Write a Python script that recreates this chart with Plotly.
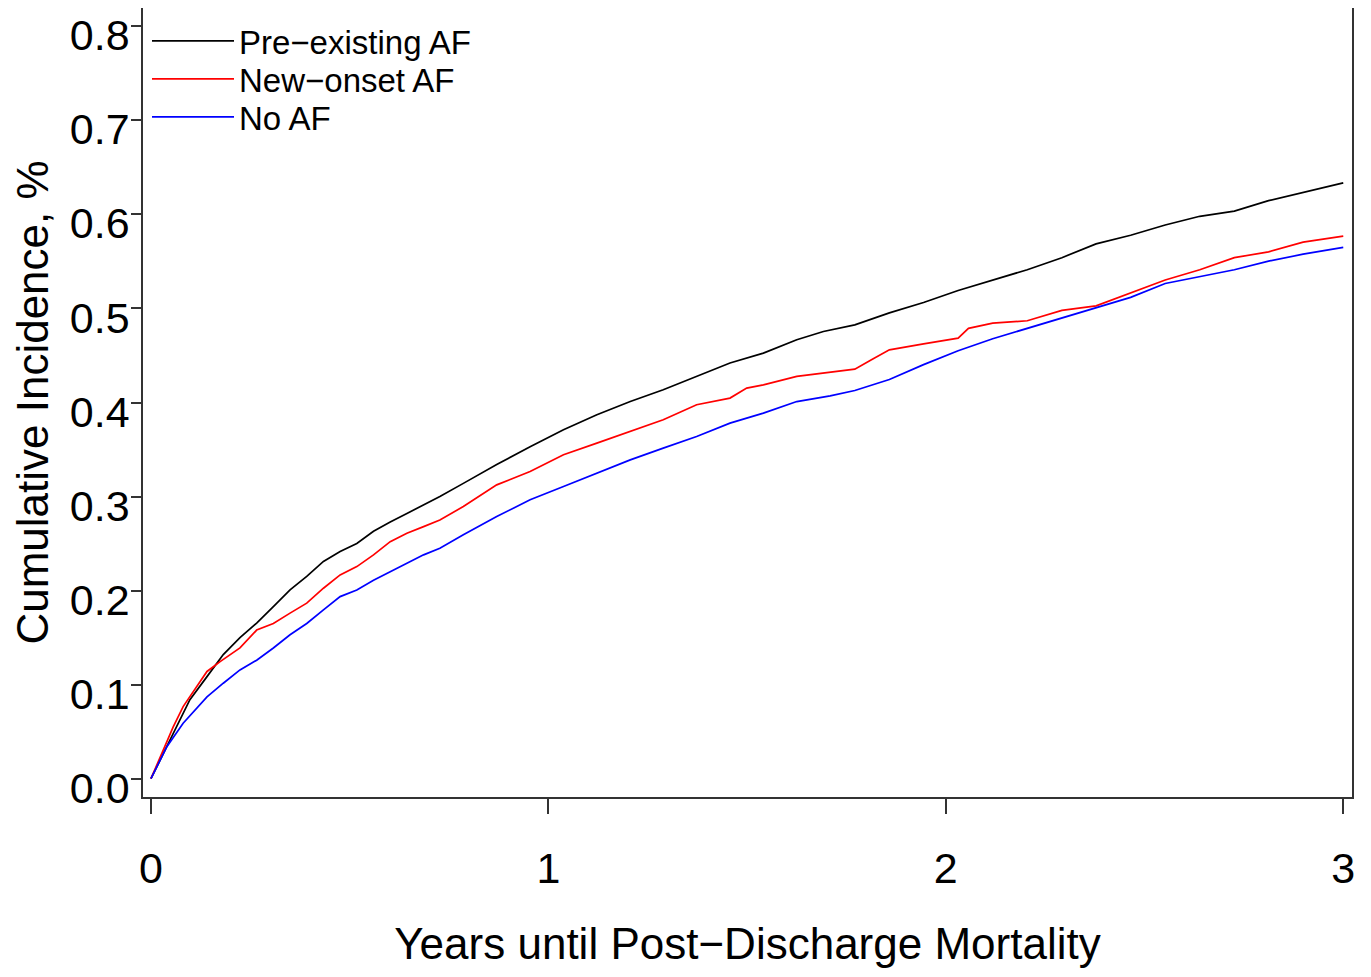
import plotly.graph_objects as go

# ---- data ----
pre_x = [0, 0.056, 0.098, 0.141, 0.182, 0.224, 0.266, 0.308, 0.35, 0.392, 0.434, 0.476, 0.518, 0.56,
         0.602, 0.644, 0.686, 0.727, 0.786, 0.870, 0.954, 1.038, 1.122, 1.206, 1.289, 1.373, 1.457,
         1.541, 1.625, 1.692, 1.771, 1.858, 1.944, 2.031, 2.118, 2.205, 2.292, 2.378, 2.465, 2.552,
         2.639, 2.726, 2.812, 2.899, 3.0]
pre_y = [0, 0.049, 0.084, 0.1085, 0.132, 0.150, 0.1655, 0.183, 0.2007, 0.215, 0.231, 0.2415, 0.250,
         0.263, 0.273, 0.282, 0.291, 0.300, 0.314, 0.334, 0.353, 0.371, 0.387, 0.401, 0.4135, 0.4277,
         0.442, 0.4525, 0.4667, 0.4755, 0.4825, 0.4953, 0.5063, 0.5191, 0.5302, 0.5412, 0.554, 0.5687,
         0.5779, 0.5888, 0.598, 0.6035, 0.6146, 0.6237, 0.6336]

new_x = [0, 0.056, 0.081, 0.141, 0.174, 0.224, 0.266, 0.308, 0.35, 0.392, 0.434, 0.476, 0.518, 0.56,
         0.602, 0.644, 0.686, 0.727, 0.786, 0.870, 0.954, 1.038, 1.122, 1.206, 1.289, 1.373, 1.457,
         1.499, 1.541, 1.625, 1.709, 1.771, 1.814, 1.858, 1.944, 2.031, 2.057, 2.118, 2.205, 2.292,
         2.378, 2.465, 2.552, 2.639, 2.726, 2.812, 2.899, 3.0]
new_y = [0, 0.055, 0.0766, 0.114, 0.1245, 0.139, 0.158, 0.165, 0.176, 0.1866, 0.2025, 0.2167, 0.2255,
         0.238, 0.252, 0.261, 0.268, 0.275, 0.2894, 0.3124, 0.3266, 0.3444, 0.3568, 0.3691, 0.3816,
         0.3976, 0.4047, 0.4153, 0.4188, 0.4277, 0.432, 0.4355, 0.4457, 0.456, 0.4623, 0.4685, 0.4788,
         0.4844, 0.4869, 0.4979, 0.5027, 0.5163, 0.5302, 0.5412, 0.554, 0.5602, 0.5705, 0.577]

no_x = [0, 0.04, 0.081, 0.141, 0.182, 0.224, 0.266, 0.308, 0.35, 0.392, 0.434, 0.476, 0.518, 0.56,
        0.602, 0.644, 0.686, 0.727, 0.786, 0.870, 0.954, 1.038, 1.122, 1.206, 1.289, 1.373, 1.457,
        1.541, 1.625, 1.709, 1.771, 1.858, 1.944, 2.031, 2.118, 2.205, 2.292, 2.378, 2.465, 2.552,
        2.639, 2.726, 2.812, 2.899, 3.0]
no_y = [0, 0.034, 0.059, 0.087, 0.1015, 0.1156, 0.126, 0.139, 0.153, 0.165, 0.1795, 0.1936, 0.2007,
        0.211, 0.220, 0.229, 0.238, 0.245, 0.2593, 0.2787, 0.2965, 0.3106, 0.3249, 0.339, 0.3515,
        0.3638, 0.3781, 0.3887, 0.401, 0.407, 0.4128, 0.4245, 0.4403, 0.455, 0.4678, 0.4788, 0.4898,
        0.5009, 0.5118, 0.5265, 0.5338, 0.5412, 0.5503, 0.5577, 0.565]

series_names = ["Pre\u2212existing AF", "New\u2212onset AF", "No AF"]
x_ticks = [0, 1, 2, 3]
y_ticks = [0.0, 0.1, 0.2, 0.3, 0.4, 0.5, 0.6, 0.7, 0.8]

FONT = "Liberation Sans, Arial, sans-serif"
OFF = 8                      # page body margin of the HTML
W, H = 1371 - OFF, 977 - OFF
PLOT_L, PLOT_R, PLOT_T, PLOT_B = 143, 1352, 8, 797   # target screen positions
PLOT_H = PLOT_B - PLOT_T
PLOT_W = PLOT_R - PLOT_L

def ypaper(py):
    return 1 - (py - PLOT_T) / PLOT_H

fig = go.Figure()
legend_ids = ["legend", "legend2", "legend3"]
for name, xs, ys, col, lg in [(series_names[0], pre_x, pre_y, "#000000", legend_ids[0]),
                              (series_names[1], new_x, new_y, "#FF0000", legend_ids[1]),
                              (series_names[2], no_x, no_y, "#0000FF", legend_ids[2])]:
    fig.add_trace(go.Scatter(x=xs, y=ys, mode="lines", name=name, legend=lg,
                             line=dict(color=col, width=1.7)))

legend_style = dict(x=4.0 / PLOT_W, xanchor="left", yanchor="middle",
                    font=dict(size=33, family=FONT, color="black"),
                    bgcolor="rgba(0,0,0,0)", itemwidth=82)
fig.update_layout(
    width=W, height=H,
    margin=dict(l=PLOT_L - OFF, r=W - (PLOT_R - OFF), t=PLOT_T - OFF, b=H - (PLOT_B - OFF),
                pad=0, autoexpand=False),
    paper_bgcolor="white", plot_bgcolor="white",
    font=dict(family=FONT, color="black"),
    showlegend=True,
    legend=dict(y=ypaper(41), **legend_style),
    legend2=dict(y=ypaper(79), **legend_style),
    legend3=dict(y=ypaper(117), **legend_style),
)
fig.update_xaxes(
    range=[-0.02, 3.022], tickvals=x_ticks, ticktext=[str(v) for v in x_ticks],
    showgrid=False, zeroline=False, showline=True, linecolor="#333333", linewidth=1.5,
    mirror=True, ticks="outside", ticklen=15, tickwidth=1.5, tickcolor="#333333",
    tickfont=dict(size=43, family=FONT), ticklabelstandoff=18, automargin=False,
    title=dict(text="Years until Post\u2212Discharge Mortality", font=dict(size=44, family=FONT), standoff=37),
)
fig.update_yaxes(
    range=[-0.0195, 0.8195], tickvals=y_ticks, tickformat=".1f",
    showgrid=False, zeroline=False, showline=True, linecolor="#333333", linewidth=1.5,
    mirror=True, ticks="outside", ticklen=10, tickwidth=1.5, tickcolor="#333333",
    tickfont=dict(size=43, family=FONT), ticklabelshift=9, ticklabelstandoff=-7,
    ticklabeloverflow="allow", automargin=False,
    title=dict(text="Cumulative Incidence, %", font=dict(size=44, family=FONT), standoff=12),
)

fig.write_html("out.html")
